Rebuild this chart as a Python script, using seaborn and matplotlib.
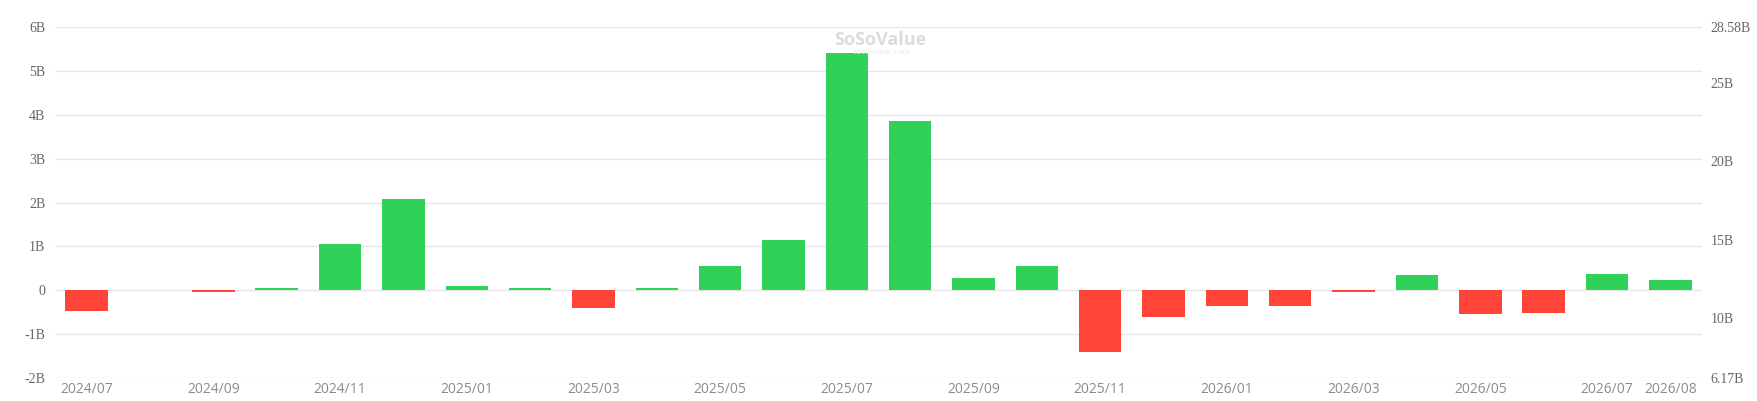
import matplotlib
matplotlib.use('Agg')
import matplotlib.pyplot as plt
import seaborn as sns
import pandas as pd

# Monthly net flow, in billions
months = ['2024/07', '2024/08', '2024/09', '2024/10', '2024/11', '2024/12',
          '2025/01', '2025/02', '2025/03', '2025/04', '2025/05', '2025/06',
          '2025/07', '2025/08', '2025/09', '2025/10', '2025/11', '2025/12',
          '2026/01', '2026/02', '2026/03', '2026/04', '2026/05', '2026/06',
          '2026/07', '2026/08']
net_flow = [-0.48, 0.0, -0.05, 0.05, 1.05, 2.07,
            0.09, 0.06, -0.40, 0.06, 0.55, 1.15,
            5.41, 3.86, 0.28, 0.56, -1.41, -0.61,
            -0.35, -0.36, -0.05, 0.35, -0.54, -0.52,
            0.36, 0.23]

shown_months = ['2024/07', '2024/09', '2024/11', '2025/01', '2025/03', '2025/05',
                '2025/07', '2025/09', '2025/11', '2026/01', '2026/03', '2026/05',
                '2026/07', '2026/08']

left_ticks = [-2, -1, 0, 1, 2, 3, 4, 5, 6]
left_labels = ['-2B', '-1B', '0', '1B', '2B', '3B', '4B', '5B', '6B']
right_ticks = [6.17, 10, 15, 20, 25, 28.58]
right_labels = ['6.17B', '10B', '15B', '20B', '25B', '28.58B']

df = pd.DataFrame({'Mes': months, 'Flujo': net_flow})
df['Signo'] = ['pos' if v >= 0 else 'neg' for v in df['Flujo']]

sns.set_style('white')

fig = plt.figure(figsize=(17.58, 4.01), dpi=100)
ax = fig.add_axes([55 / 1758, 1 - 378 / 401, (1702 - 55) / 1758, (378 - 27) / 401])

sns.barplot(data=df, x='Mes', y='Flujo', hue='Signo',
            palette={'pos': '#30d158', 'neg': '#ff453a'}, saturation=1,
            dodge=False, width=0.67, legend=False, ax=ax, zorder=3, linewidth=0)

ax.set_ylim(-2, 6)
ax.set_xlim(-0.5, len(months) - 0.5)
ax.set_yticks(left_ticks)
ax.set_yticklabels(left_labels, family='Liberation Serif', fontsize=10, color='#666666')
ax.set_xticks([months.index(m) for m in shown_months])
ax.set_xticklabels(shown_months, family='Open Sans', fontsize=10, color='#8c8c8c')
ax.tick_params(axis='both', length=0)
ax.tick_params(axis='y', pad=7)
ax.tick_params(axis='x', pad=3)
ax.grid(axis='y', color='#e6e6e6', linewidth=1, zorder=0)
ax.set_xlabel('')
ax.set_ylabel('')
for s in ax.spines.values():
    s.set_visible(False)

ax2 = ax.twinx()
ax2.set_ylim(6.17, 28.58)
ax2.set_yticks(right_ticks)
ax2.set_yticklabels(right_labels, family='Liberation Serif', fontsize=10, color='#666666')
ax2.tick_params(axis='y', length=0, pad=6)
for s in ax2.spines.values():
    s.set_visible(False)

# marca de agua
fig.text(880 / 1758, 1 - 40 / 401, 'SoSoValue', ha='center', va='center',
         fontsize=13, fontweight='bold', color='#dcdcdc', family='Open Sans')
fig.text(882 / 1758, 1 - 53 / 401, 'sosovalue.com', ha='center', va='center',
         fontsize=6, color='#e6e6e6', family='Open Sans')

fig.savefig('out.png', dpi=100)
